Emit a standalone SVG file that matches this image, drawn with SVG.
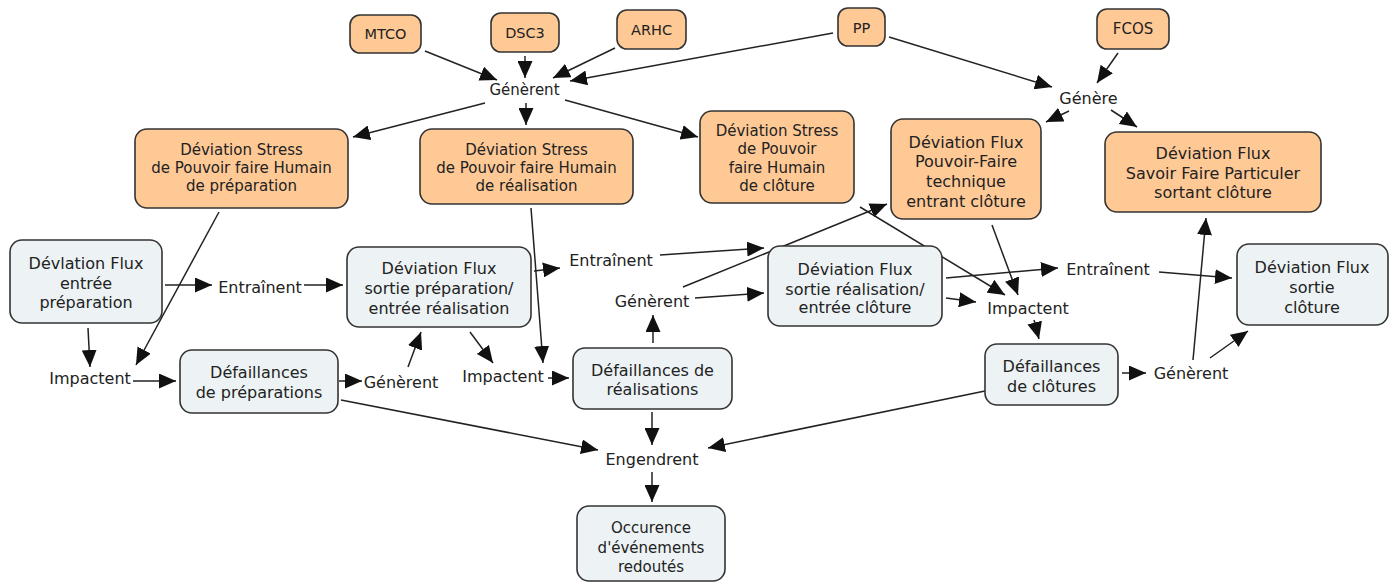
<svg xmlns="http://www.w3.org/2000/svg" width="1394" height="583" viewBox="0 0 1394 583">
<defs>
<marker id="ah" markerUnits="userSpaceOnUse" markerWidth="17" markerHeight="15" refX="17" refY="7.5" orient="auto">
<path d="M0,0 L17,7.5 L0,15 z" fill="#111"/>
</marker>
<style>
.o{fill:#FFC996;stroke:#333;stroke-width:1.6}
.b{fill:#EDF3F5;stroke:#333;stroke-width:1.6}
text{font-family:"DejaVu Sans","Liberation Sans",sans-serif;fill:#222;text-anchor:middle}
.s{font-size:14.5px}
.m{font-size:15px}
.l{font-size:16px}
.c line{stroke:#222;stroke-width:1.5;marker-end:url(#ah)}
</style>
</defs>
<rect width="1394" height="583" fill="#fff"/>
<g class="c" id="connectors">
<line x1="425" y1="51" x2="497" y2="80"/>
<line x1="525" y1="56" x2="525" y2="78"/>
<line x1="615" y1="48" x2="553" y2="78"/>
<line x1="833" y1="33" x2="570" y2="81"/>
<line x1="889" y1="37" x2="1052" y2="87"/>
<line x1="1118" y1="53" x2="1097" y2="83"/>
<line x1="1069" y1="111" x2="1046" y2="122"/>
<line x1="1111" y1="110" x2="1137" y2="127"/>
<line x1="485" y1="103" x2="353" y2="137"/>
<line x1="526" y1="103" x2="526" y2="125"/>
<line x1="565" y1="100" x2="698" y2="137"/>
<line x1="219" y1="212" x2="136" y2="365"/>
<line x1="88" y1="328" x2="90" y2="367"/>
<line x1="165" y1="285" x2="212" y2="285"/>
<line x1="304" y1="285" x2="343" y2="285"/>
<line x1="133" y1="381" x2="176" y2="381"/>
<line x1="339" y1="381" x2="362" y2="381"/>
<line x1="408" y1="367" x2="421" y2="332"/>
<line x1="470" y1="332" x2="493" y2="363"/>
<line x1="531" y1="208" x2="543" y2="363"/>
<line x1="548" y1="378" x2="569" y2="378"/>
<line x1="534" y1="271" x2="560" y2="268"/>
<line x1="660" y1="255" x2="764" y2="248"/>
<line x1="695" y1="298" x2="764" y2="293"/>
<line x1="683" y1="287" x2="887" y2="204"/>
<line x1="653" y1="343" x2="653" y2="315"/>
<line x1="652" y1="412" x2="652" y2="445"/>
<line x1="341" y1="400" x2="598" y2="450"/>
<line x1="985" y1="391" x2="708" y2="448"/>
<line x1="652" y1="472" x2="652" y2="502"/>
<line x1="860" y1="207" x2="1005" y2="295"/>
<line x1="992" y1="225" x2="1018" y2="295"/>
<line x1="946" y1="298" x2="976" y2="302"/>
<line x1="946" y1="278" x2="1058" y2="268"/>
<line x1="1159" y1="272" x2="1232" y2="278"/>
<line x1="1034" y1="320" x2="1039" y2="339"/>
<line x1="1122" y1="373" x2="1146" y2="373"/>
<line x1="1193" y1="360" x2="1206" y2="218"/>
<line x1="1210" y1="358" x2="1248" y2="331"/>
</g>
<g id="mtco"><rect class="o" x="350" y="15" width="71" height="38" rx="10"/><text class="s" x="385.5" y="39">MTCO</text></g>
<g id="dsc3"><rect class="o" x="491" y="13" width="68" height="39" rx="10"/><text class="s" x="525" y="38">DSC3</text></g>
<g id="arhc"><rect class="o" x="617" y="10" width="69" height="39" rx="10"/><text class="s" x="651.5" y="35">ARHC</text></g>
<g id="pp"><rect class="o" x="838" y="8" width="47" height="38" rx="10"/><text class="s" x="861.5" y="33">PP</text></g>
<g id="fcos"><rect class="o" x="1097" y="9" width="72" height="40" rx="10"/><text class="m" x="1133" y="34">FCOS</text></g>
<g id="stress-prep"><rect class="o" x="135" y="129" width="213" height="79" rx="12"/><text class="m" x="241.5" y="155">Déviation Stress</text><text class="m" x="241.5" y="173">de Pouvoir faire Humain</text><text class="m" x="241.5" y="191">de préparation</text></g>
<g id="stress-real"><rect class="o" x="420" y="129" width="213" height="75" rx="12"/><text class="m" x="526.5" y="155">Déviation Stress</text><text class="m" x="526.5" y="173">de Pouvoir faire Humain</text><text class="m" x="526.5" y="191">de réalisation</text></g>
<g id="stress-clot"><rect class="o" x="700" y="111" width="154" height="92" rx="12"/><text class="m" x="777" y="136">Déviation Stress</text><text class="m" x="777" y="154">de Pouvoir</text><text class="m" x="777" y="173">faire Humain</text><text class="m" x="777" y="191">de clôture</text></g>
<g id="pouvoir-faire"><rect class="o" x="891" y="119" width="150" height="100" rx="12"/><text class="l" x="966" y="148">Déviation Flux</text><text class="l" x="966" y="167">Pouvoir-Faire</text><text class="l" x="966" y="187">technique</text><text class="l" x="966" y="207">entrant clôture</text></g>
<g id="savoir-faire"><rect class="o" x="1105" y="132" width="216" height="80" rx="12"/><text class="l" x="1213" y="159">Déviation Flux</text><text class="l" x="1213" y="179">Savoir Faire Particuler</text><text class="l" x="1213" y="198">sortant clôture</text></g>
<g id="flux-entree"><rect class="b" x="10" y="240" width="152" height="83" rx="12"/><text class="l" x="86" y="269">Dévlation Flux</text><text class="l" x="86" y="289">entrée</text><text class="l" x="86" y="308">préparation</text></g>
<g id="flux-sortie-prep"><rect class="b" x="347" y="247" width="184" height="80" rx="12"/><text class="l" x="439" y="274">Déviation Flux</text><text class="l" x="439" y="294">sortie préparation/</text><text class="l" x="439" y="314">entrée réalisation</text></g>
<g id="flux-sortie-real"><rect class="b" x="768" y="246" width="174" height="80" rx="12"/><text class="l" x="855" y="275">Déviation Flux</text><text class="l" x="855" y="295">sortie réalisation/</text><text class="l" x="855" y="313">entrée clôture</text></g>
<g id="flux-sortie-clot"><rect class="b" x="1237" y="244" width="151" height="81" rx="12"/><text class="l" x="1312" y="273">Déviation Flux</text><text class="l" x="1312" y="293">sortie</text><text class="l" x="1312" y="313">clôture</text></g>
<g id="def-prep"><rect class="b" x="180" y="350" width="158" height="63" rx="12"/><text class="l" x="259" y="378">Défaillances</text><text class="l" x="259" y="398">de préparations</text></g>
<g id="def-real"><rect class="b" x="573" y="348" width="159" height="61" rx="12"/><text class="l" x="652.5" y="376">Défaillances de</text><text class="l" x="652.5" y="395">réalisations</text></g>
<g id="def-clot"><rect class="b" x="985" y="344" width="133" height="61" rx="12"/><text class="l" x="1051.5" y="372">Défaillances</text><text class="l" x="1051.5" y="392">de clôtures</text></g>
<g id="occurence"><rect class="b" x="577" y="506" width="148" height="75" rx="12"/><text class="m" x="651" y="533">Occurence</text><text class="m" x="651" y="553">d'événements</text><text class="m" x="651" y="572">redoutés</text></g>
<g id="labels">
<g id="l-generent-top"><text class="m" x="524.5" y="95">Génèrent</text></g>
<g id="l-genere"><text class="l" x="1088.5" y="104">Génère</text></g>
<g id="l-entrainent-1"><text class="l" x="260" y="293">Entraînent</text></g>
<g id="l-impactent-1"><text class="l" x="90" y="384">Impactent</text></g>
<g id="l-generent-1"><text class="l" x="401" y="388">Génèrent</text></g>
<g id="l-impactent-2"><text class="l" x="503" y="382">Impactent</text></g>
<g id="l-entrainent-2"><text class="l" x="611" y="266">Entraînent</text></g>
<g id="l-generent-2"><text class="l" x="652" y="307">Génèrent</text></g>
<g id="l-entrainent-3"><text class="l" x="1108" y="275">Entraînent</text></g>
<g id="l-impactent-3"><text class="l" x="1028" y="314">Impactent</text></g>
<g id="l-generent-3"><text class="l" x="1191" y="379">Génèrent</text></g>
<g id="l-engendrent"><text class="l" x="652" y="465">Engendrent</text></g>
</g>
</svg>
